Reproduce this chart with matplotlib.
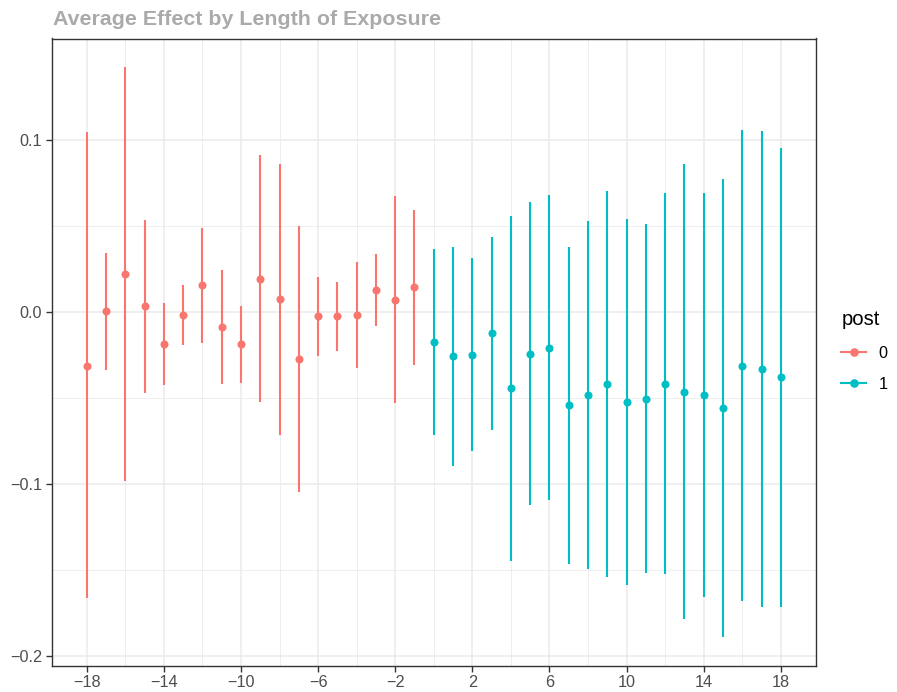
import matplotlib
matplotlib.use("Agg")
import matplotlib.pyplot as plt
from matplotlib.lines import Line2D
import numpy as np

plt.rcParams['font.family'] = ['Liberation Sans', 'DejaVu Sans']

# ---- data ----
pre_x = list(range(-18, 0))
pre_est = [-0.031, 0.001, 0.022, 0.0035, -0.0184, -0.0017, 0.0157, -0.0085, -0.0186,
           0.0196, 0.0078, -0.0271, -0.0023, -0.0023, -0.0017, 0.0128, 0.0074, 0.0147]
pre_hi = [0.105, 0.0347, 0.1426, 0.0539, 0.0052, 0.0157, 0.0492, 0.0248, 0.0037,
          0.0915, 0.0864, 0.0504, 0.0207, 0.0178, 0.0293, 0.0337, 0.0674, 0.0597]
pre_lo = [-0.1662, -0.0337, -0.098, -0.0469, -0.042, -0.0192, -0.0176, -0.0419, -0.0409,
          -0.0523, -0.0711, -0.1047, -0.0256, -0.0225, -0.0326, -0.008, -0.0527, -0.0304]

post_x = list(range(0, 19))
post_est = [-0.0171, -0.0256, -0.0246, -0.0122, -0.0442, -0.0242, -0.0205, -0.0541, -0.0483,
            -0.0419, -0.0523, -0.0502, -0.0417, -0.0463, -0.0479, -0.0556, -0.031, -0.0328, -0.0378]
post_hi = [0.0368, 0.038, 0.0316, 0.0436, 0.0558, 0.064, 0.068, 0.0382, 0.0529,
           0.0705, 0.0541, 0.0512, 0.0694, 0.086, 0.0696, 0.0773, 0.1058, 0.1052, 0.0957]
post_lo = [-0.0711, -0.0891, -0.0804, -0.0682, -0.1446, -0.1122, -0.1091, -0.1465, -0.1492,
           -0.1541, -0.1583, -0.1513, -0.1523, -0.1783, -0.1655, -0.1888, -0.1678, -0.1711, -0.1713]

legend_title = "post"
legend_labels = ["0", "1"]
title = "Average Effect by Length of Exposure"
xticks = [-18, -14, -10, -6, -2, 2, 6, 10, 14, 18]
yticks = [-0.2, -0.1, 0.0, 0.1]

colors = ["#F8766D", "#00BFC4"]

W, H = 897, 692
fig = plt.figure(figsize=(W / 100, H / 100), dpi=100)
ax = fig.add_axes([52 / W, 1 - 665.5 / H, (815.5 - 52) / W, (665.5 - 38.5) / H])

lw = 1.5
ms = 5.8
for xs, est, lo, hi, c in [(pre_x, pre_est, pre_lo, pre_hi, colors[0]),
                           (post_x, post_est, post_lo, post_hi, colors[1])]:
    ax.vlines(xs, lo, hi, color=c, lw=lw, zorder=3)
    ax.plot(xs, est, 'o', color=c, ms=ms, mec='none', zorder=4)

allx = pre_x + post_x
ally = pre_lo + pre_hi + post_lo + post_hi
xr = max(allx) - min(allx)
yr = max(ally) - min(ally)
ax.set_xlim(min(allx) - 0.05 * xr, max(allx) + 0.05 * xr)
ax.set_ylim(min(ally) - 0.05 * yr, max(ally) + 0.05 * yr)

ax.set_xticks(xticks)
ax.set_xticklabels([str(t).replace('-', '\u2212') for t in xticks])
ax.set_yticks(yticks)
ax.set_yticklabels([f"{t:.1f}".replace('-', '\u2212') for t in yticks])
ax.set_xticks(np.arange(-16, 17, 4), minor=True)
ax.set_yticks([-0.15, -0.05, 0.05], minor=True)

ax.grid(True, which='major', color='#EBEBEB', lw=1.1, zorder=0)
ax.grid(True, which='minor', color='#EBEBEB', lw=0.6, zorder=0)
ax.set_axisbelow(True)
ax.tick_params(which='major', length=4, width=1.0, color='#333333', labelcolor='#4D4D4D',
               labelsize=11.7, pad=3)
ax.tick_params(which='minor', length=0)
for s in ax.spines.values():
    s.set_color('#333333')
    s.set_linewidth(1.0)

fig.text(53 / W, 1 - 25 / H, title, fontsize=15.4, fontweight='bold', color='#AAAAAA',
         ha='left', va='baseline')

handles = [Line2D([], [], color=c, lw=lw, marker='o', ms=ms + 0.4, mec='none') for c in colors]
leg = ax.legend(handles, legend_labels, title=legend_title, loc='upper left',
                bbox_to_anchor=(838 / W, 1 - 307 / H), bbox_transform=fig.transFigure,
                frameon=False, fontsize=11.7, title_fontsize=14.6, handlelength=1.55,
                handletextpad=0.75, labelspacing=1.0, borderaxespad=0, borderpad=0.2)
leg._legend_box.align = "left"

fig.savefig("out.png", dpi=100)
